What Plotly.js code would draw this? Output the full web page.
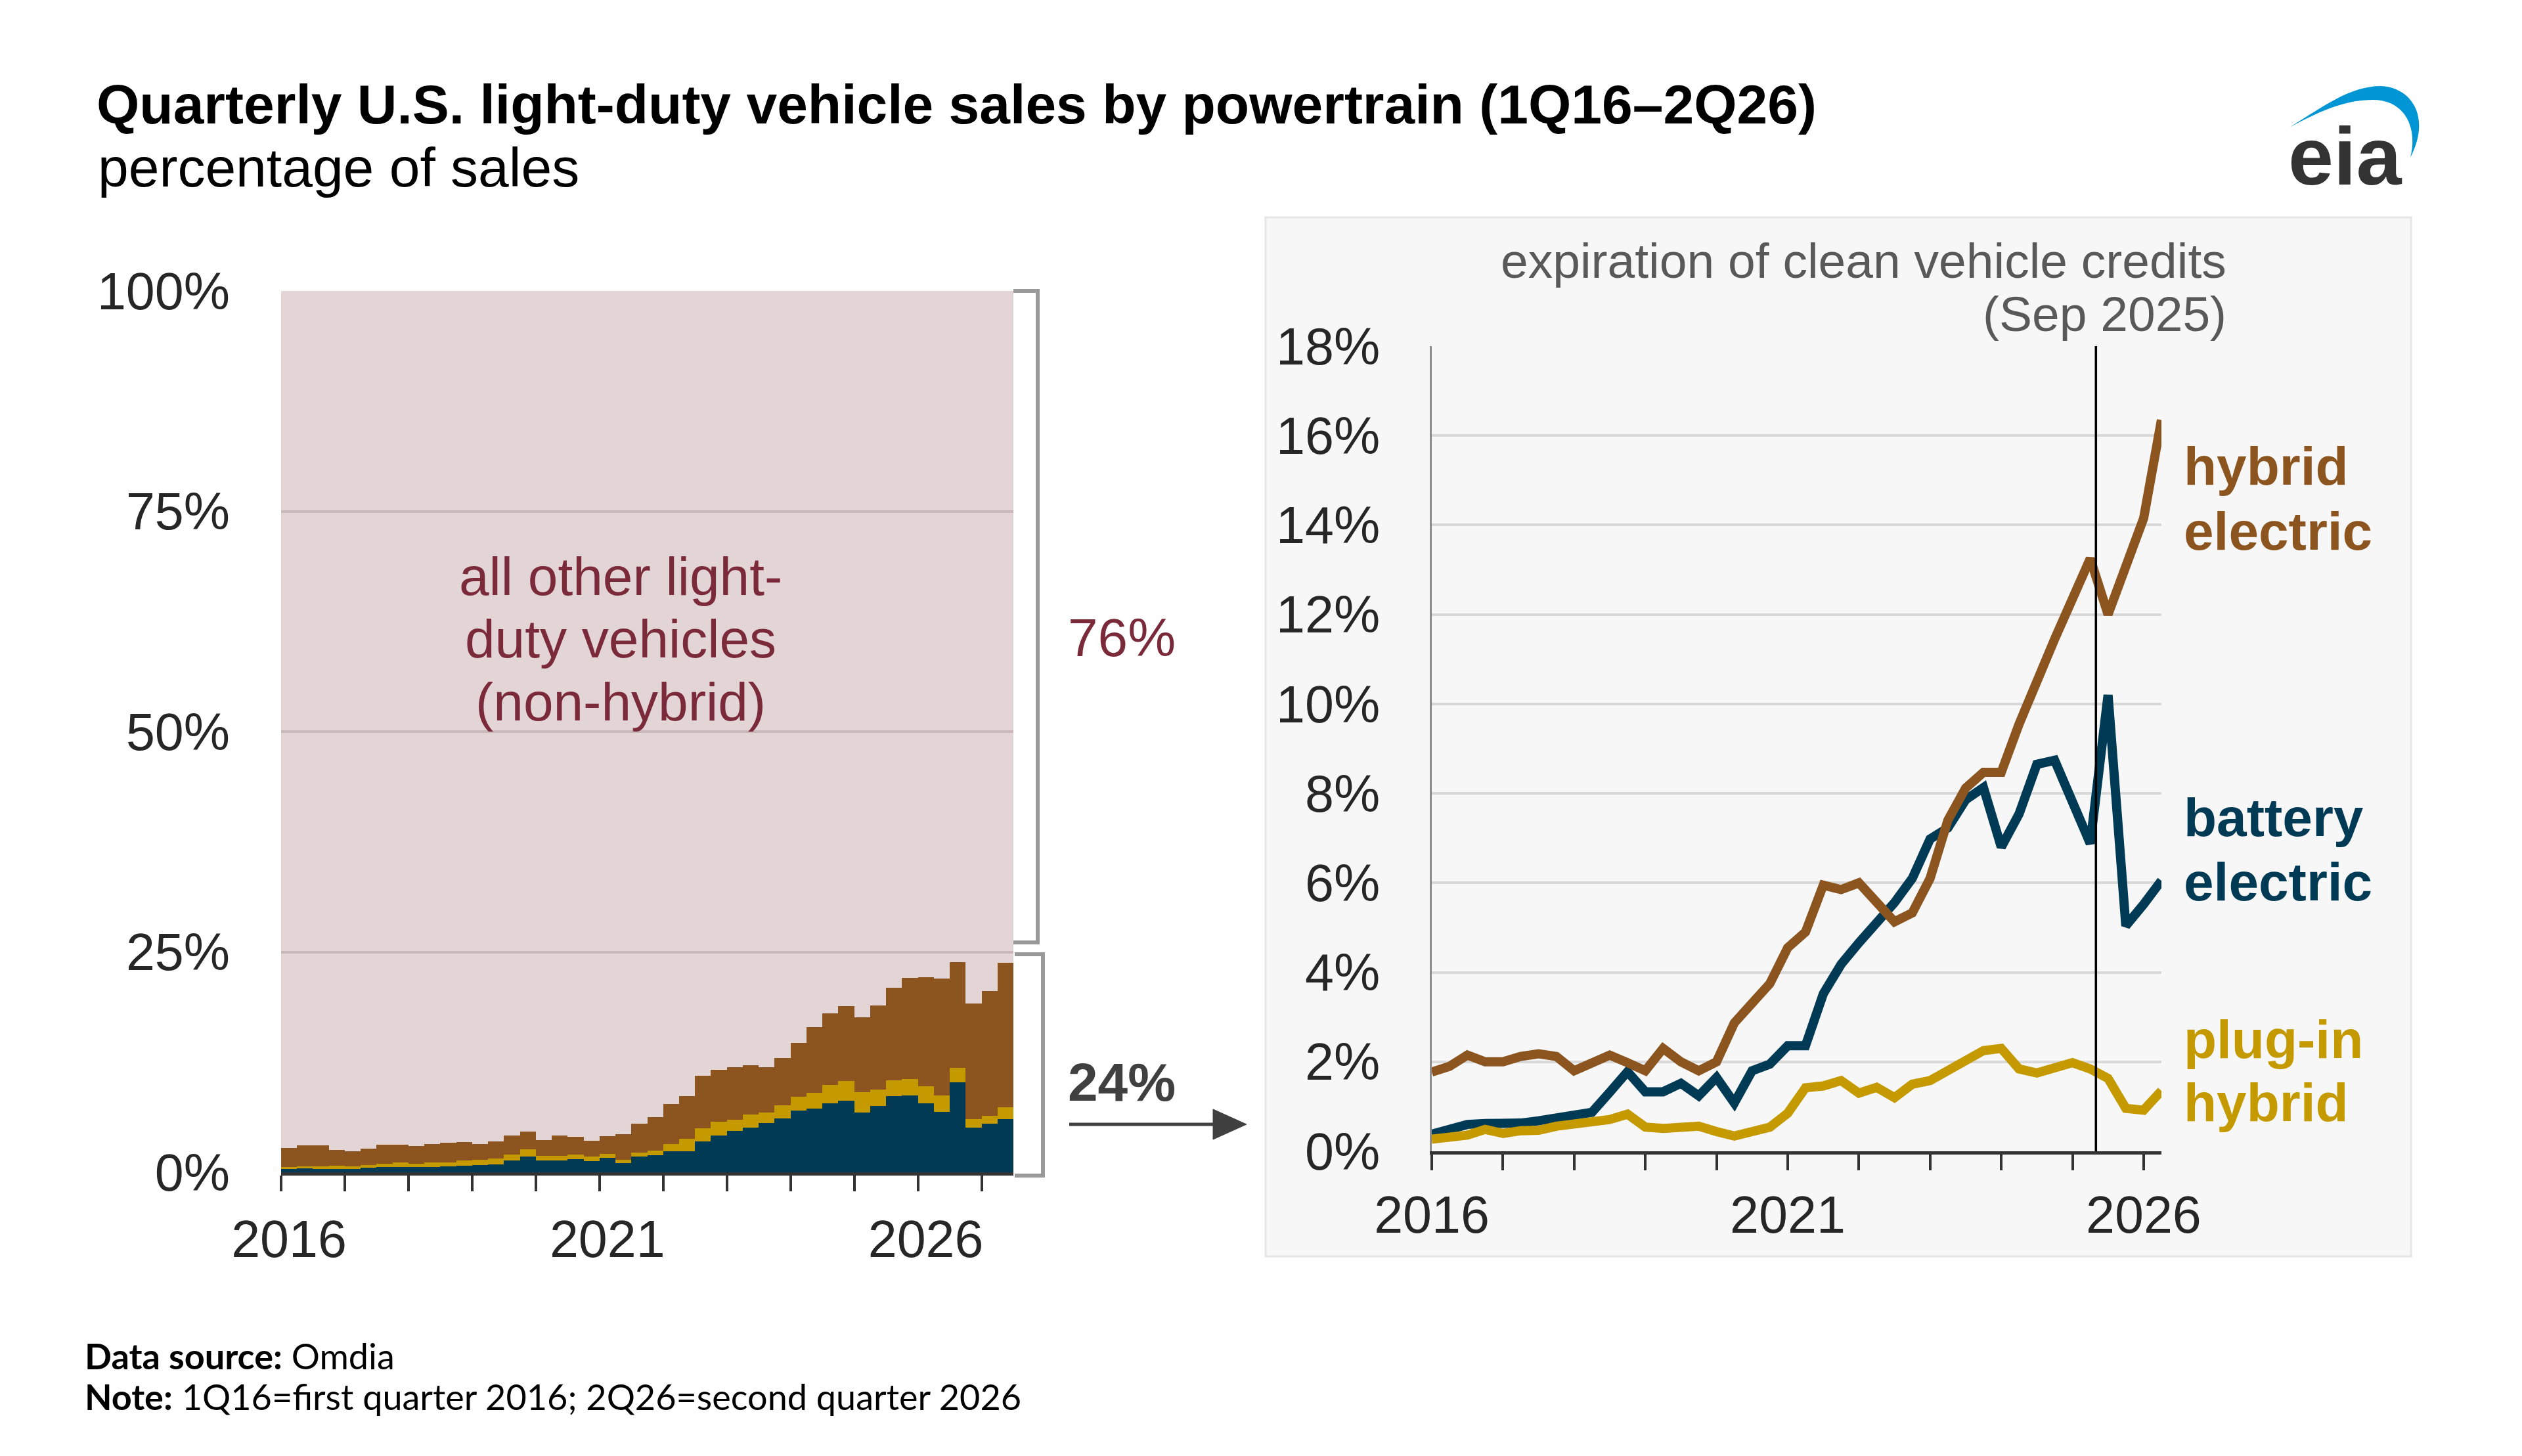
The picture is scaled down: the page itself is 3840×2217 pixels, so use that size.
<!DOCTYPE html>
<html>
<head>
<meta charset="utf-8">
<script src="https://cdn.plot.ly/plotly-3.0.1.min.js"></script>
<style>
html,body{margin:0;padding:0;background:#ffffff;}
#chart{width:3840px;height:2217px;}
</style>
</head>
<body>
<div id="chart"></div>
<script>
// ---------------- DATA (percent of U.S. light-duty vehicle sales) ----------------
const quarters = ['1Q16','2Q16','3Q16','4Q16','1Q17','2Q17','3Q17','4Q17','1Q18','2Q18','3Q18','4Q18',
  '1Q19','2Q19','3Q19','4Q19','1Q20','2Q20','3Q20','4Q20','1Q21','2Q21','3Q21','4Q21',
  '1Q22','2Q22','3Q22','4Q22','1Q23','2Q23','3Q23','4Q23','1Q24','2Q24','3Q24','4Q24',
  '1Q25','2Q25','3Q25','4Q25','1Q26','2Q26'];
const hybridElectric = [1.77,1.9,2.15,2.0,2.0,2.12,2.18,2.12,1.8,1.95,2.15,1.98,
  1.8,2.3,2.0,1.8,2.0,2.87,3.3,3.75,4.55,4.9,5.95,5.85,
  6.0,5.6,5.13,5.33,6.1,7.4,8.12,8.47,8.47,9.55,10.55,11.45,
  12.35,13.25,12.0,13.15,14.15,16.35];
const batteryElectric = [0.38,0.5,0.6,0.62,0.6,0.63,0.68,0.76,0.8,0.87,1.32,1.78,
  1.33,1.33,1.52,1.24,1.65,1.08,1.8,1.95,2.36,2.36,3.52,4.18,
  4.66,5.1,5.56,6.1,6.98,7.23,7.86,8.13,6.8,7.54,8.65,8.74,
  7.8,6.88,10.2,5.04,5.52,6.05];
const plugInHybrid = [0.27,0.32,0.36,0.49,0.4,0.46,0.47,0.56,0.62,0.66,0.71,0.83,
  0.54,0.51,0.51,0.56,0.44,0.34,0.44,0.54,0.85,1.42,1.46,1.58,
  1.3,1.43,1.2,1.5,1.58,1.82,2.05,2.25,2.3,1.84,1.75,1.84,
  1.98,1.84,1.63,0.96,0.92,1.35];
// the stacked panel also shows four earlier quarters
const quartersPre = ['1Q15','2Q15','3Q15','4Q15'];
const hybridElectricPre = [2.14,2.36,2.38,1.81];
const batteryElectricPre = [0.35,0.45,0.4,0.35];
const plugInHybridPre = [0.25,0.22,0.25,0.4];

const yearTickValues = [2016,2017,2018,2019,2020,2021,2022,2023,2024,2025,2026];
const yearTickLabels = ['2016','','','','','2021','','','','','2026'];
const leftPctTicks = [0,25,50,75,100];
const rightPctTicks = [0,2,4,6,8,10,12,14,16,18];
const creditExpiry = 2025.33;   // Sep 2025 marker as drawn
const otherShareLabel = '76%';
const hybridShareLabel = '24%';

// ---------------- helpers ----------------
const W = 3840, H = 2217;
const px = x => x / W;
const py = y => 1 - y / H;
const FONT = 'Liberation Sans, Arial, sans-serif';
const C_HEV = '#8C551F', C_BEV = '#003A54', C_PHEV = '#C49A00';
const C_MAROON = '#7B2A3A';

const qToYear = q => 2000 + Number(q.slice(2)) + (Number(q[0]) - 1) / 4;
const xRight = quarters.map(qToYear);
const allQuarters = quartersPre.concat(quarters);
const xLeft = allQuarters.map((q, i) => i);
const leftBev = batteryElectricPre.concat(batteryElectric);
const leftPhev = plugInHybridPre.concat(plugInHybrid);
const leftHev = hybridElectricPre.concat(hybridElectric);
const leftTickVals = yearTickValues.map((y, k) => k * 4 - 0.5).concat([43.5]);
const leftTickText = yearTickLabels.concat(['']);

// ---------------- traces ----------------
const traces = [
  {type:'bar', x:xLeft, y:leftBev, name:'battery electric', marker:{color:C_BEV, line:{width:0}}, xaxis:'x', yaxis:'y', hoverinfo:'skip'},
  {type:'bar', x:xLeft, y:leftPhev, name:'plug-in hybrid', marker:{color:C_PHEV, line:{width:0}}, xaxis:'x', yaxis:'y', hoverinfo:'skip'},
  {type:'bar', x:xLeft, y:leftHev, name:'hybrid electric', marker:{color:C_HEV, line:{width:0}}, xaxis:'x', yaxis:'y', hoverinfo:'skip'},
  {type:'scatter', mode:'lines', x:xRight, y:batteryElectric, line:{color:C_BEV, width:14}, xaxis:'x2', yaxis:'y2', hoverinfo:'skip'},
  {type:'scatter', mode:'lines', x:xRight, y:hybridElectric, line:{color:C_HEV, width:14}, xaxis:'x2', yaxis:'y2', hoverinfo:'skip'},
  {type:'scatter', mode:'lines', x:xRight, y:plugInHybrid, line:{color:C_PHEV, width:14}, xaxis:'x2', yaxis:'y2', hoverinfo:'skip'}
];

// ---------------- annotations ----------------
function txt(text, x, y, size, color, anchor, extra) {
  return Object.assign({text:text, xref:'paper', yref:'paper', x:px(x), y:py(y),
    xanchor:anchor || 'center', yanchor:'middle', showarrow:false,
    font:{family:FONT, size:size, color:color}}, extra || {});
}
const annotations = [
  txt('percentage of sales', 147, 255, 84, '#000000', 'left'),
  txt('all other light-', 945, 877, 82, C_MAROON),
  txt('duty vehicles', 945, 972, 82, C_MAROON),
  txt('(non-hybrid)', 945, 1068, 82, C_MAROON),
  txt(otherShareLabel, 1708, 970, 82, C_MAROON),
  txt('<b>' + hybridShareLabel + '</b>', 1708, 1647, 82, '#404040'),
  txt('expiration of clean vehicle credits', 3392, 397, 75, '#595959', 'right'),
  txt('(Sep 2025)', 3392, 478, 75, '#595959', 'right'),
  txt('<b>hybrid</b>', 3323, 710, 82, C_HEV, 'left'),
  txt('<b>electric</b>', 3323, 808, 82, C_HEV, 'left'),
  txt('<b>battery</b>', 3323, 1244, 82, C_BEV, 'left'),
  txt('<b>electric</b>', 3323, 1342, 82, C_BEV, 'left'),
  txt('<b>plug-in</b>', 3323, 1582, 82, C_PHEV, 'left'),
  txt('<b>hybrid</b>', 3323, 1678, 82, C_PHEV, 'left'),
  txt('<b>eia</b>', 3570, 238, 124, '#333333', 'center'),
  txt('<b>Data source:</b> Omdia', 127, 2064, 54, '#000000', 'left', {font:{family:'Lato, sans-serif', size:54, color:'#000'}}),
  txt('<b>Note:</b> 1Q16=first quarter 2016; 2Q26=second quarter 2026', 127, 2126, 54, '#000000', 'left', {font:{family:'Lato, sans-serif', size:54, color:'#000'}})
];

// ---------------- shapes ----------------
function pathPx(cmds) {
  return cmds.map(c => c[0] + ' ' + c.slice(1).map((v, i) => (i % 2 === 0 ? px(v) : py(v)).toFixed(5)).join(' ')).join(' ');
}
const shapes = [
  {type:'rect', xref:'paper', yref:'paper', x0:px(1927), x1:px(3671), y0:py(1913), y1:py(331),
   fillcolor:'#F7F7F7', line:{color:'#E6E6E6', width:3}, layer:'below'},
  {type:'rect', xref:'x domain', yref:'y domain', x0:0, x1:1, y0:0, y1:1,
   fillcolor:'#E3D4D6', line:{width:0}, layer:'below'},
  {type:'path', xref:'paper', yref:'paper', path:pathPx([['M',1543,443],['L',1580,443],['L',1580,1435],['L',1543,1435]]),
   line:{color:'#999999', width:6}},
  {type:'path', xref:'paper', yref:'paper', path:pathPx([['M',1545,1453],['L',1588,1453],['L',1588,1790],['L',1545,1790]]),
   line:{color:'#999999', width:6}},
  {type:'line', xref:'paper', yref:'paper', x0:px(1628), x1:px(1860), y0:py(1712), y1:py(1712),
   line:{color:'#404040', width:5}},
  {type:'path', xref:'paper', yref:'paper', path:pathPx([['M',1847,1689],['L',1898,1712],['L',1847,1735]]) + ' Z',
   fillcolor:'#404040', line:{color:'#404040', width:1}},
  {type:'line', xref:'x2', yref:'y2', x0:creditExpiry, x1:creditExpiry, y0:-0.15, y1:18,
   line:{color:'#000000', width:3.5}, layer:'above'},
  {type:'path', xref:'paper', yref:'paper',
   path:pathPx([['M',3486,194],['C',3540,160,3580,131,3625,131],['C',3672,133,3702,178,3670,240],
                ['C',3682,192,3660,152,3613,152],['C',3570,152,3530,170,3486,194]]) + ' Z',
   fillcolor:'#0096D6', line:{width:0}}
];

// ---------------- layout ----------------
const axisFont = {family:FONT, size:79, color:'#262626'};
const layout = {
  width:W, height:H,
  margin:{l:0, r:0, t:0, b:0, pad:0},
  paper_bgcolor:'#ffffff', plot_bgcolor:'rgba(0,0,0,0)',
  showlegend:false, barmode:'stack', bargap:0,
  title:{text:'<b>Quarterly U.S. light-duty vehicle sales by powertrain (1Q16\u20132Q26)</b>',
    x:px(147), xanchor:'left', y:py(159), yanchor:'middle', xref:'paper', yref:'container',
    font:{family:FONT, size:84, color:'#000000'}},
  xaxis:{domain:[px(428), px(1543)], range:[-0.5, 45.5], anchor:'y',
    tickmode:'array', tickvals:leftTickVals, ticktext:leftTickText,
    ticks:'outside', ticklen:24, tickwidth:4, tickcolor:'#333333',
    showline:true, linecolor:'#333333', linewidth:5, showgrid:false, zeroline:false,
    tickfont:axisFont, ticklabelstandoff:5, ticklabelshift:12, fixedrange:true},
  yaxis:{domain:[py(1785), py(443)], range:[0,100], anchor:'x',
    tickmode:'array', tickvals:leftPctTicks, ticktext:leftPctTicks.map(v => v + '%'),
    ticks:'', showline:false, showgrid:true, gridcolor:'#C9B7BA', gridwidth:4, zeroline:false,
    tickfont:axisFont, ticklabelstandoff:77, fixedrange:true},
  xaxis2:{domain:[px(2180), px(3291)], range:[2016, 2026.25], anchor:'y2',
    tickmode:'array', tickvals:yearTickValues, ticktext:yearTickLabels,
    ticks:'outside', ticklen:24, tickwidth:4, tickcolor:'#333333',
    showline:true, linecolor:'#333333', linewidth:5, showgrid:false, zeroline:false,
    tickfont:axisFont, ticklabelstandoff:0, fixedrange:true},
  yaxis2:{domain:[py(1753), py(527)], range:[0,18], anchor:'x2',
    tickmode:'array', tickvals:rightPctTicks, ticktext:rightPctTicks.map(v => v + '%'),
    ticks:'', showline:true, linecolor:'#8C8C8C', linewidth:3, showgrid:true, gridcolor:'#D9D9D9', gridwidth:4,
    zeroline:false, tickfont:axisFont, ticklabelstandoff:60, fixedrange:true},
  annotations:annotations,
  shapes:shapes
};

Plotly.newPlot('chart', traces, layout, {displayModeBar:false, staticPlot:true});
</script>
</body>
</html>
